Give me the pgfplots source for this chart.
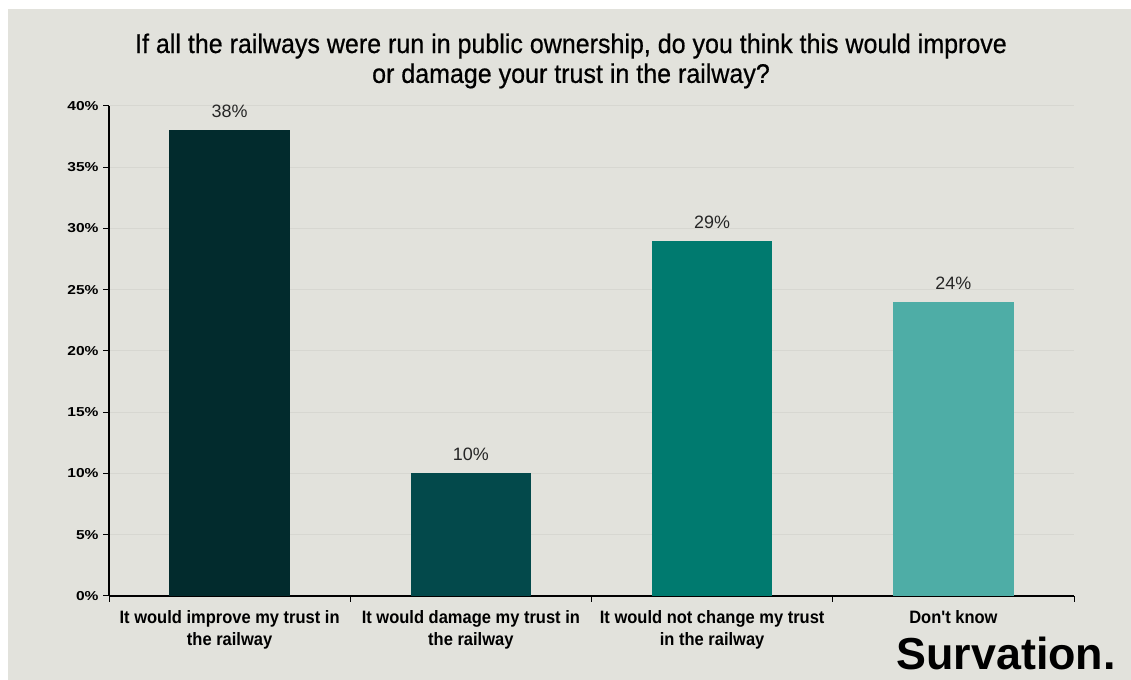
\documentclass[border=0pt]{standalone}
\usepackage{fontspec}
\setmainfont{Liberation Sans}
\newfontfamily\titlefont[FakeStretch=0.93,FakeBold=0.6]{Liberation Sans}
\newfontfamily\condfont[FakeStretch=0.92]{Liberation Sans}
\newfontfamily\widefont[FakeStretch=1.2]{Liberation Sans}
\usepackage{pgfplots}
\pgfplotsset{compat=1.18}
\definecolor{bg}{HTML}{E2E2DC}
\definecolor{c1}{HTML}{022B2D}
\definecolor{c2}{HTML}{03494B}
\definecolor{c3}{HTML}{007A6F}
\definecolor{c4}{HTML}{4EADA6}
\definecolor{gridc}{HTML}{D7D7D1}
\begin{document}
\begin{tikzpicture}[x=1bp,y=1bp]
\fill[white] (0,0) rectangle (1131,680);
\fill[bg] (8,0) rectangle (1131,671);
\node[font=\titlefont\fontsize{27}{30}\selectfont, align=center, text=black] at (571,619)
 {If all the railways were run in public ownership, do you think this would improve\\or damage your trust in the railway?};
\begin{axis}[
  at={(109bp,84bp)}, anchor=south west,
  scale only axis, width=965bp, height=490bp,
  xmin=-0.5, xmax=3.5, ymin=0, ymax=40,
  axis x line*=bottom, axis y line*=left,
  axis line style={line width=1.2bp, black},
  /pgf/number format/assume math mode=true,
  ytick={0,5,...,40},
  yticklabel={\pgfmathprintnumber{\tick}\%},
  yticklabel style={font=\widefont\bfseries\fontsize{13}{15}\selectfont, xshift=-1bp},
  tick align=outside, major tick length=6bp,
  tick style={line width=1bp, black},
  ymajorgrids, grid style={gridc, line width=1bp},
  xtick={-0.5,0.5,1.5,2.5,3.5}, xticklabels={},
  extra x ticks={0,1,2,3},
  extra x tick labels={{It would improve my trust in\\the railway},{It would damage my trust in\\the railway},{It would not change my trust\\in the railway},{Don't know}},
  extra x tick style={major tick length=0bp, xmajorgrids=false,
    tick label style={font=\condfont\bfseries\fontsize{18}{22}\selectfont, align=center, anchor=north, yshift=-11bp}},
  ybar, bar width=0.5, bar shift=0pt,
  nodes near coords={\pgfmathprintnumber{\pgfplotspointmeta}\%},
  nodes near coords style={font=\fontsize{18}{20}\selectfont, text=black!85, anchor=south, yshift=9bp},
]
\addplot[fill=c1, draw=none] coordinates {(0,38)};
\addplot[fill=c2, draw=none] coordinates {(1,10)};
\addplot[fill=c3, draw=none] coordinates {(2,29)};
\addplot[fill=c4, draw=none] coordinates {(3,24)};
\end{axis}
\node[font=\bfseries\fontsize{45}{48}\selectfont, anchor=base east, text=black, inner sep=0pt] at (1116,10) {Survation.};
\end{tikzpicture}
\end{document}
